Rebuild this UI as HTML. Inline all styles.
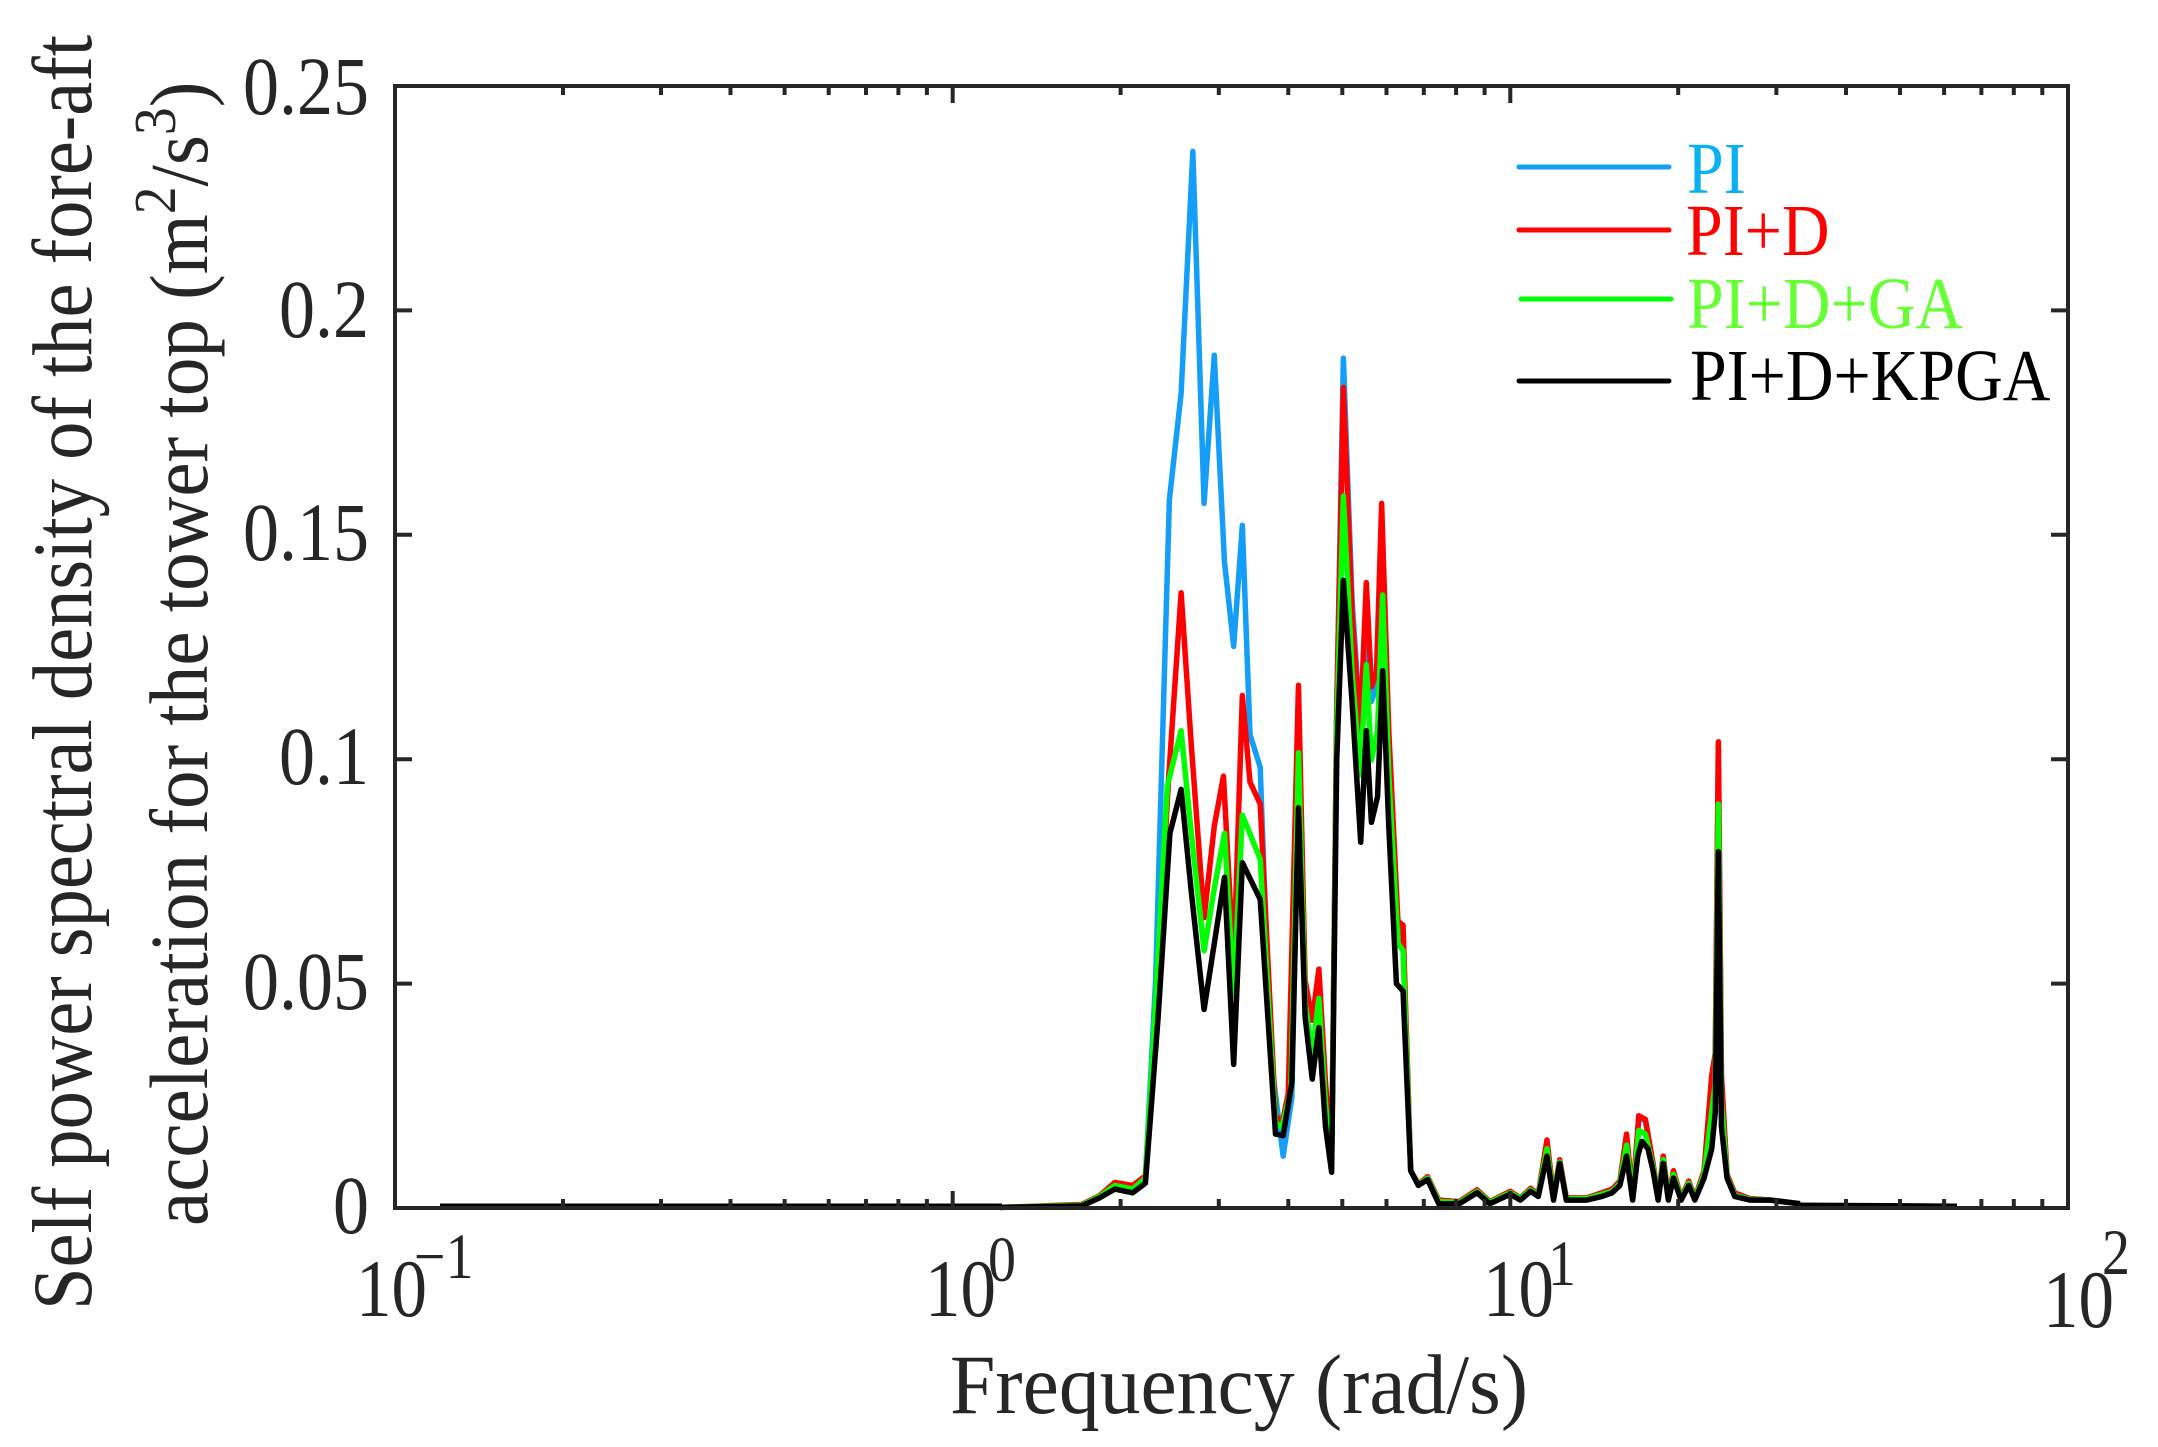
<!DOCTYPE html>
<html><head><meta charset="utf-8"><style>
html,body{margin:0;padding:0;background:#fff;}
svg{display:block;}
text{font-family:"Liberation Serif",serif;fill:#262626;}
</style></head><body>
<svg width="2158" height="1447" viewBox="0 0 2158 1447" xmlns="http://www.w3.org/2000/svg">
<rect width="2158" height="1447" fill="#fff"/>

<line x1="440" y1="1206" x2="1002" y2="1206" stroke="#000" stroke-width="5"/>
<line x1="1798" y1="1205" x2="1957" y2="1206" stroke="#000" stroke-width="5"/>

<g transform="translate(1000,100) scale(0.5102,0.7334)" fill="none" stroke-linejoin="round">
<polyline vector-effect="non-scaling-stroke" stroke="#159EF8" stroke-width="5.5" points="0,1510 160,1508 195,1496 225,1480 260,1484 285,1470 305,1200 332,545 355,400 378,70 400,550 420,348 440,630 458,745 475,580 490,865 510,910 530,1300 555,1440 572,1360 585,940 598,1230 612,1320 625,1240 638,1380 650,1450 660,830 673,352 690,680 706,850 718,720 728,820 738,800 748,600 762,880 780,1130 790,1140 805,1460 820,1478 838,1470 860,1502 900,1502 935,1488 960,1503 1000,1490 1020,1498 1040,1486 1055,1493 1072,1420 1085,1497 1097,1447 1110,1498 1150,1498 1180,1492 1200,1487 1215,1476 1228,1412 1240,1497 1252,1388 1265,1392 1280,1452 1290,1498 1300,1442 1310,1498 1320,1462 1335,1498 1350,1476 1362,1498 1380,1462 1395,1332 1402,1300 1408,880 1414,1332 1425,1466 1440,1492 1470,1498 1510,1500 1568,1505"/>
<polyline vector-effect="non-scaling-stroke" stroke="#FF0000" stroke-width="5.5" points="0,1510 160,1506 195,1494 225,1476 260,1480 285,1467 305,1250 330,930 355,672 375,880 400,1115 420,990 438,922 458,1180 475,812 490,930 510,960 540,1385 553,1395 565,1355 585,798 598,1200 612,1255 625,1185 638,1340 650,1440 660,830 673,392 690,700 706,860 718,658 728,800 738,780 748,550 762,860 780,1120 790,1125 805,1460 820,1478 838,1468 860,1500 900,1502 935,1486 960,1502 1000,1488 1020,1497 1040,1484 1055,1492 1072,1418 1085,1495 1097,1445 1110,1497 1150,1497 1180,1490 1200,1485 1215,1474 1228,1410 1240,1495 1252,1385 1265,1390 1280,1450 1290,1497 1300,1440 1310,1497 1320,1460 1335,1497 1350,1474 1362,1497 1380,1460 1395,1330 1402,1300 1408,875 1414,1330 1425,1465 1440,1490 1470,1498 1510,1500 1568,1505"/>
<polyline vector-effect="non-scaling-stroke" stroke="#00FF00" stroke-width="5.5" points="0,1510 160,1507 195,1495 225,1480 260,1485 285,1470 305,1230 328,935 355,860 375,1000 400,1160 420,1075 440,1000 458,1220 475,975 510,1035 540,1395 553,1400 570,1350 585,890 598,1230 612,1300 625,1225 638,1370 650,1450 660,860 673,540 690,780 706,920 718,770 728,900 740,860 750,675 762,920 780,1150 790,1160 805,1460 820,1479 838,1470 860,1502 900,1503 935,1488 960,1503 1000,1490 1020,1498 1040,1486 1055,1493 1072,1430 1085,1497 1097,1448 1110,1498 1150,1498 1180,1492 1200,1488 1215,1477 1228,1425 1240,1497 1252,1405 1265,1410 1280,1455 1290,1498 1300,1445 1310,1498 1320,1465 1335,1498 1350,1477 1362,1498 1380,1465 1395,1380 1402,1340 1408,960 1414,1365 1425,1468 1440,1493 1470,1499 1510,1500 1568,1505"/>
<polyline vector-effect="non-scaling-stroke" stroke="#000000" stroke-width="5.5" points="0,1510 160,1508 195,1497 225,1485 260,1490 285,1477 310,1250 333,1000 355,940 375,1080 400,1240 420,1150 440,1060 458,1315 475,1040 510,1090 540,1410 555,1412 572,1340 585,965 598,1250 612,1335 625,1265 638,1400 650,1462 660,900 673,655 690,820 707,1012 718,860 728,985 740,950 750,778 762,990 777,1205 790,1215 805,1460 820,1480 838,1472 860,1505 900,1505 935,1490 960,1505 1000,1492 1020,1500 1040,1488 1055,1495 1072,1440 1085,1500 1097,1450 1110,1500 1150,1500 1180,1495 1200,1490 1215,1480 1228,1440 1240,1500 1250,1440 1258,1420 1270,1430 1280,1460 1290,1500 1300,1450 1310,1500 1320,1470 1335,1500 1350,1480 1362,1500 1380,1470 1395,1430 1402,1380 1408,1025 1414,1400 1425,1470 1440,1495 1470,1500 1510,1500 1568,1505"/>
</g>

<rect x="395" y="86" width="1673" height="1122" fill="none" stroke="#262626" stroke-width="4"/>
<g stroke="#262626" stroke-width="4">
<path d="M395 983.6h17M395 759.2h17M395 534.8h17M395 310.4h17M2068 983.6h-17M2068 759.2h-17M2068 534.8h-17M2068 310.4h-17"/>
<path d="M952.7 1208v-17M1510.3 1208v-17M952.7 86v17M1510.3 86v17"/>
<path d="M563 1208v-9M661 1208v-9M730.5 1208v-9M784.6 1208v-9M828.7 1208v-9M866 1208v-9M898.4 1208v-9M926.9 1208v-9
M1120.6 1208v-9M1218.8 1208v-9M1288.3 1208v-9M1342.3 1208v-9M1386.5 1208v-9M1423.8 1208v-9M1456.1 1208v-9M1484.6 1208v-9
M1678.2 1208v-9M1776.4 1208v-9M1846 1208v-9M1900 1208v-9M1944.1 1208v-9M1981.4 1208v-9M2013.8 1208v-9M2042.3 1208v-9
M563 86v9M661 86v9M730.5 86v9M784.6 86v9M828.7 86v9M866 86v9M898.4 86v9M926.9 86v9
M1120.6 86v9M1218.8 86v9M1288.3 86v9M1342.3 86v9M1386.5 86v9M1423.8 86v9M1456.1 86v9M1484.6 86v9
M1678.2 86v9M1776.4 86v9M1846 86v9M1900 86v9M1944.1 86v9M1981.4 86v9M2013.8 86v9M2042.3 86v9"/>
</g>

<g font-size="72" text-anchor="end">
<text transform="translate(369,1233) scale(1,1.15)">0</text>
<text transform="translate(369,1009) scale(1,1.15)">0.05</text>
<text transform="translate(369,784) scale(1,1.15)">0.1</text>
<text transform="translate(369,560) scale(1,1.15)">0.15</text>
<text transform="translate(369,337) scale(1,1.15)">0.2</text>
<text transform="translate(369,114) scale(1,1.15)">0.25</text>
</g>

<g font-size="71">
<text transform="translate(356,1316) scale(1,1.15)">10</text><text transform="translate(414,1278) scale(1,1.15)" font-size="56">−1</text>
<text transform="translate(925,1316) scale(1,1.15)">10</text><text transform="translate(988,1281) scale(1,1.15)" font-size="56">0</text>
<text transform="translate(1483,1316) scale(1,1.15)">10</text><text transform="translate(1548,1285) scale(1,1.15)" font-size="56">1</text>
<text transform="translate(2043,1327) scale(1,1.15)">10</text><text transform="translate(2102,1274) scale(1,1.15)" font-size="56">2</text>
</g>

<text transform="translate(950,1413) scale(1,1.06)" font-size="80" textLength="578" lengthAdjust="spacingAndGlyphs">Frequency (rad/s)</text>

<text transform="translate(91,1310) rotate(-90) scale(1,1.15)" font-size="74" textLength="1275" lengthAdjust="spacingAndGlyphs">Self power spectral density of the fore-aft</text>
<text transform="translate(207,1226) rotate(-90) scale(1.07,1.15)" font-size="72">acceleration for the tower top (m<tspan font-size="52" dy="-28">2</tspan><tspan dy="28">/s</tspan><tspan font-size="52" dy="-28">3</tspan><tspan dy="28">)</tspan></text>

<g stroke-width="5" stroke-linecap="round">
<line x1="1519" y1="167" x2="1669" y2="167" stroke="#159EF8"/>
<line x1="1519" y1="230" x2="1669" y2="230" stroke="#FF0000"/>
<line x1="1521" y1="299" x2="1671" y2="299" stroke="#00FF00"/>
<line x1="1519" y1="381" x2="1669" y2="381" stroke="#000000"/>
</g>
<g font-size="66">
<text transform="translate(1687,193) scale(1,1.1)" style="fill:#0AB0F0">PI</text>
<text transform="translate(1686,255) scale(1,1.1)" style="fill:#FF0000">PI+D</text>
<text transform="translate(1687,328) scale(1,1.1)" style="fill:#66FF33">PI+D+GA</text>
<text transform="translate(1690,400) scale(1,1.1)" style="fill:#000000">PI+D+KPGA</text>
</g>
</svg>
</body></html>
